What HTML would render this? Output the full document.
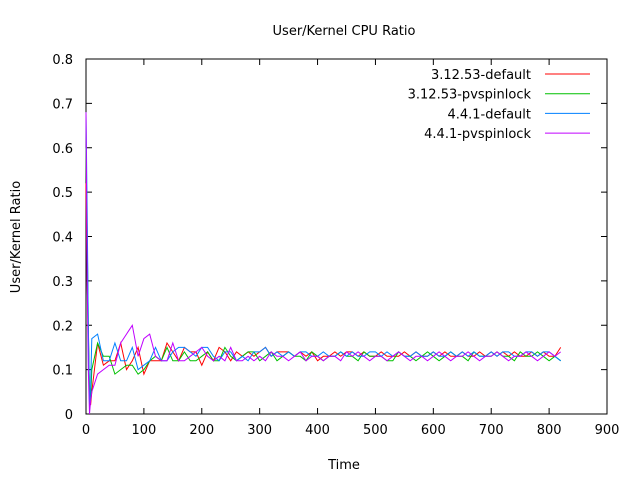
<!DOCTYPE html>
<html><head><meta charset="utf-8"><style>
html,body{margin:0;padding:0;background:#fff;}
svg{display:block;font-family:"DejaVu Sans","Liberation Sans",sans-serif;}
</style></head><body>
<svg id="chart" width="640" height="480" xmlns="http://www.w3.org/2000/svg">
<text x="344" y="35" font-size="13" text-anchor="middle">User/Kernel CPU Ratio</text>
<text x="344" y="469" font-size="13" text-anchor="middle">Time</text>
<text transform="translate(20,237) rotate(-90)" font-size="13" text-anchor="middle">User/Kernel Ratio</text>
<rect x="86" y="59" width="521" height="355" fill="none" stroke="#000" stroke-width="1"/>
<g id="axes"></g>
<g id="series"></g>
<g id="legend"></g>
</svg>
<script>
const xTicks=[0,100,200,300,400,500,600,700,800,900];
const yTicks=[0,0.1,0.2,0.3,0.4,0.5,0.6,0.7,0.8];
const seriesNames=["3.12.53-default","3.12.53-pvspinlock","4.4.1-default","4.4.1-pvspinlock"];
const seriesColors=["#ff0000","#00c000","#0080ff","#c000ff"];
const times=[0,2,4,6,8,10,20,30,40,50,60,70,80,90,100,110,120,130,140,150,160,170,180,190,200,210,220,230,240,250,260,270,280,290,300,310,320,330,340,350,360,370,380,390,400,410,420,430,440,450,460,470,480,490,500,510,520,530,540,550,560,570,580,590,600,610,620,630,640,650,660,670,680,690,700,710,720,730,740,750,760,770,780,790,800,810,820];
const redVals=[0.52,0.3,0.18,0.03,0.02,0.05,0.16,0.11,0.12,0.12,0.16,0.10,0.12,0.15,0.09,0.12,0.12,0.12,0.16,0.14,0.12,0.15,0.14,0.14,0.11,0.14,0.12,0.15,0.14,0.12,0.14,0.13,0.14,0.13,0.14,0.15,0.13,0.14,0.14,0.14,0.13,0.14,0.13,0.14,0.12,0.13,0.13,0.14,0.13,0.14,0.14,0.13,0.14,0.13,0.13,0.14,0.13,0.13,0.13,0.14,0.13,0.14,0.13,0.13,0.14,0.13,0.14,0.13,0.13,0.14,0.13,0.13,0.14,0.13,0.14,0.13,0.14,0.13,0.14,0.13,0.13,0.14,0.13,0.14,0.13,0.13,0.15];
const greenVals=[0.6,0.4,0.2,0.05,0.03,0.10,0.16,0.13,0.13,0.09,0.10,0.11,0.11,0.09,0.10,0.12,0.13,0.12,0.15,0.12,0.12,0.14,0.12,0.12,0.13,0.14,0.12,0.12,0.15,0.13,0.12,0.13,0.14,0.14,0.12,0.13,0.14,0.12,0.13,0.14,0.13,0.13,0.12,0.14,0.13,0.12,0.13,0.13,0.14,0.13,0.13,0.12,0.14,0.13,0.13,0.13,0.12,0.12,0.14,0.13,0.13,0.12,0.13,0.14,0.13,0.12,0.13,0.14,0.13,0.13,0.12,0.14,0.13,0.13,0.13,0.14,0.13,0.13,0.12,0.14,0.13,0.13,0.14,0.13,0.12,0.13,0.12];
const blueVals=[0.68,0.45,0.2,0.02,0.06,0.17,0.18,0.12,0.12,0.16,0.12,0.12,0.15,0.10,0.11,0.12,0.15,0.12,0.12,0.14,0.15,0.15,0.14,0.13,0.15,0.15,0.13,0.12,0.14,0.14,0.12,0.13,0.12,0.14,0.14,0.15,0.13,0.14,0.13,0.14,0.13,0.14,0.14,0.13,0.13,0.14,0.13,0.13,0.14,0.13,0.14,0.13,0.13,0.14,0.14,0.13,0.14,0.13,0.14,0.13,0.13,0.14,0.13,0.13,0.14,0.13,0.13,0.14,0.13,0.14,0.13,0.14,0.13,0.13,0.14,0.13,0.14,0.14,0.13,0.13,0.14,0.14,0.13,0.14,0.14,0.13,0.12];
const magentaVals=[0.68,0.3,0.1,0.0,0.03,0.05,0.09,0.10,0.11,0.11,0.16,0.18,0.20,0.13,0.17,0.18,0.13,0.12,0.12,0.16,0.12,0.12,0.13,0.14,0.15,0.13,0.12,0.13,0.12,0.15,0.12,0.12,0.13,0.12,0.13,0.12,0.14,0.13,0.13,0.12,0.13,0.14,0.12,0.13,0.13,0.12,0.13,0.13,0.12,0.14,0.13,0.14,0.13,0.12,0.13,0.13,0.12,0.13,0.14,0.13,0.12,0.13,0.13,0.12,0.13,0.14,0.13,0.12,0.13,0.13,0.14,0.13,0.12,0.13,0.13,0.14,0.13,0.12,0.13,0.13,0.14,0.13,0.12,0.13,0.14,0.13,0.14];
const allVals=[redVals,greenVals,blueVals,magentaVals];

const NS="http://www.w3.org/2000/svg";
const X0=86,X1=607,Y0=414,Y1=59;
function xScale(v){return X0+(v-0)/(900-0)*(X1-X0);}
function yScale(v){return Y0-(v-0)/(0.8-0)*(Y0-Y1);}
function mk(tag,attrs,parent){const e=document.createElementNS(NS,tag);for(const k in attrs)e.setAttribute(k,attrs[k]);parent.appendChild(e);return e;}
const axes=document.getElementById('axes');
xTicks.forEach(t=>{
  const x=xScale(t);
  const a=mk('line',{x1:x,x2:x,y1:Y0,y2:Y0-6,stroke:'#000'},axes);
  
  
  const b=mk('line',{x1:x,x2:x,y1:Y1,y2:Y1+6,stroke:'#000'},axes);
  
  
  const l=mk('text',{x:x,y:Y0+20,'font-size':13,'text-anchor':'middle'},axes);
  l.textContent=t;
  
  
});
yTicks.forEach(t=>{
  const y=yScale(t);
  const a=mk('line',{x1:X0,x2:X0+6,y1:y,y2:y,stroke:'#000'},axes);
  
  
  const b=mk('line',{x1:X1,x2:X1-6,y1:y,y2:y,stroke:'#000'},axes);
  
  
  const l=mk('text',{x:X0-13,y:y+5,'font-size':13,'text-anchor':'end'},axes);
  l.textContent=String(t);
  
  
});
const sg=document.getElementById('series');
const lg=document.getElementById('legend');
allVals.forEach((vals,i)=>{
  const pts=vals.map((v,j)=>xScale(times[j]).toFixed(1)+','+yScale(v).toFixed(1)).join(' ');
  const p=mk('polyline',{points:pts,fill:'none',stroke:seriesColors[i],'stroke-width':1},sg);
  
  
  const ly=74+i*19.7;
  const t=mk('text',{x:531,y:ly+5,'font-size':13,'text-anchor':'end'},lg);
  t.textContent=seriesNames[i];
  
  
  const s=mk('line',{x1:545,x2:590,y1:ly,y2:ly,stroke:seriesColors[i]},lg);
  
  
});
</script>
</body></html>
